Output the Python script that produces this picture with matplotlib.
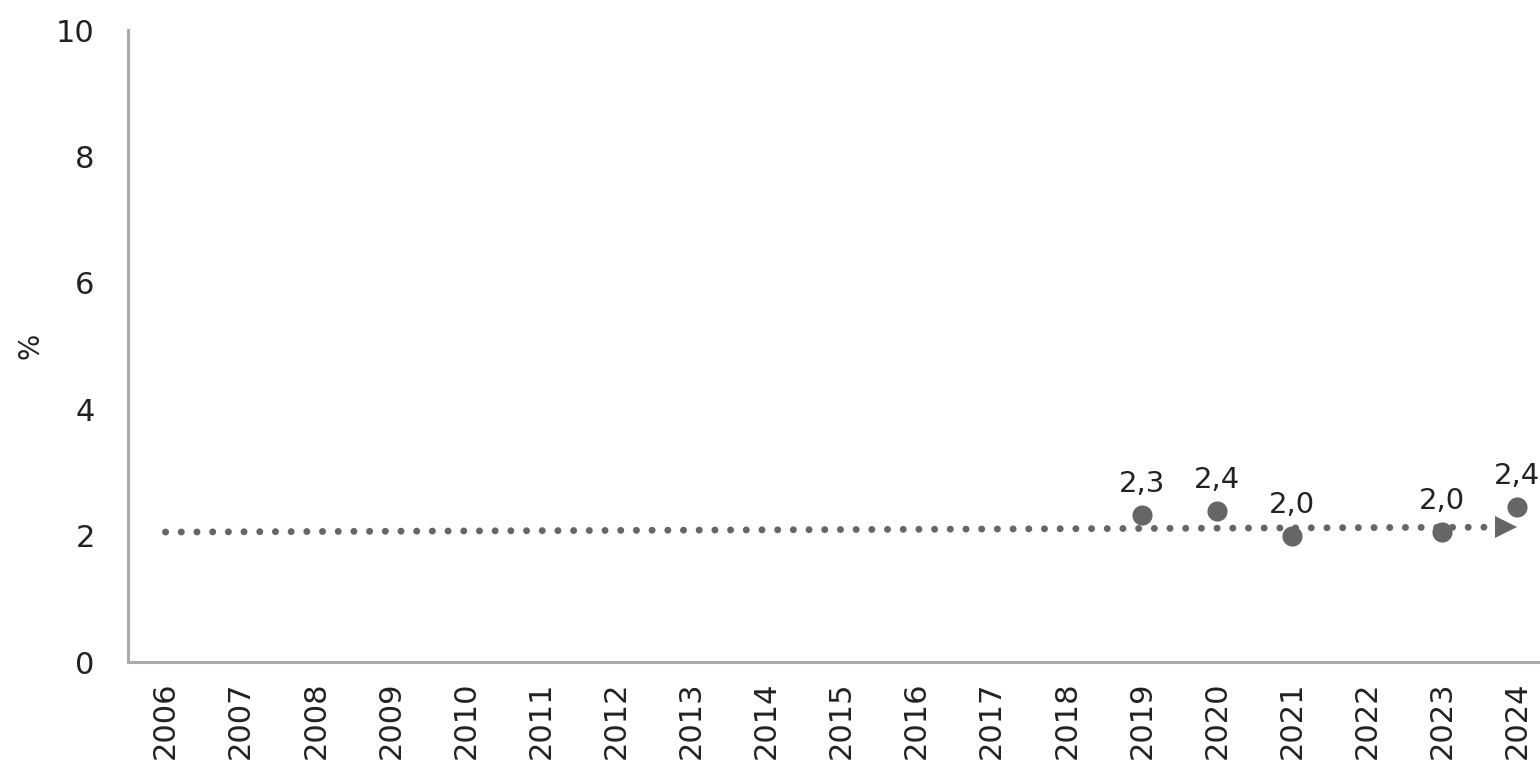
import matplotlib
matplotlib.use("Agg")
import matplotlib.pyplot as plt

years = [str(y) for y in range(2006, 2025)]
point_years = ["2019", "2020", "2021", "2023", "2024"]
point_values = [2.33, 2.39, 2.00, 2.06, 2.46]
point_labels = ["2,3", "2,4", "2,0", "2,0", "2,4"]
trend_years = ["2006", "2024"]
trend_values = [2.056, 2.135]
y_ticks = [0, 2, 4, 6, 8, 10]

GREY = "#666666"
TEXT = "#222222"
plt.rcParams["font.family"] = ["DejaVu Sans"]

fig = plt.figure(figsize=(15.4, 7.72), dpi=100)
ax = fig.add_axes([128 / 1540, 1 - 662 / 772, (1555 - 128) / 1540, (662 - 30) / 772])

idx = {y: i for i, y in enumerate(years)}
tx = [idx[y] for y in trend_years]
# trend line stops just before the arrowhead
tx_end = tx[1] - 0.15
ty_end = trend_values[0] + (trend_values[1] - trend_values[0]) * (tx_end - tx[0]) / (tx[1] - tx[0])
ax.plot([tx[0], tx_end], [trend_values[0], ty_end], color=GREY, lw=5.0,
        linestyle=(0, (0.01, 2.25)), dash_capstyle="round", zorder=2)
ax.plot([tx_end], [ty_end], marker=">", markersize=16, color=GREY,
        markeredgewidth=0, zorder=3)

px = [idx[y] for y in point_years]
ax.plot(px, point_values, linestyle="none", marker="o", markersize=14.5,
        color=GREY, markeredgewidth=0, zorder=4)
for x, v, lab in zip(px, point_values, point_labels):
    ax.annotate(lab, (x, v), xytext=(0, 12), textcoords="offset points",
                ha="center", va="bottom", fontsize=21, color=TEXT)

ax.set_xlim(-0.5, len(years) - 0.5)
ax.set_ylim(0, 10)
ax.set_xticks(range(len(years)))
ax.set_xticklabels(years, rotation=90, fontsize=22, color=TEXT)
ax.set_yticks(y_ticks)
ax.set_yticklabels([str(t) for t in y_ticks], fontsize=22, color=TEXT)
ax.tick_params(axis="both", length=0)
ax.tick_params(axis="y", pad=24)
ax.tick_params(axis="x", pad=14)
for s in ["top", "right"]:
    ax.spines[s].set_visible(False)
for s in ["left", "bottom"]:
    ax.spines[s].set_color("#aaaaaa")
    ax.spines[s].set_linewidth(2.2)

fig.text(31 / 1540, 1 - 346 / 772, "%", rotation=90, ha="center", va="center",
         fontsize=20, color=TEXT)

fig.savefig("out.png", dpi=100)
